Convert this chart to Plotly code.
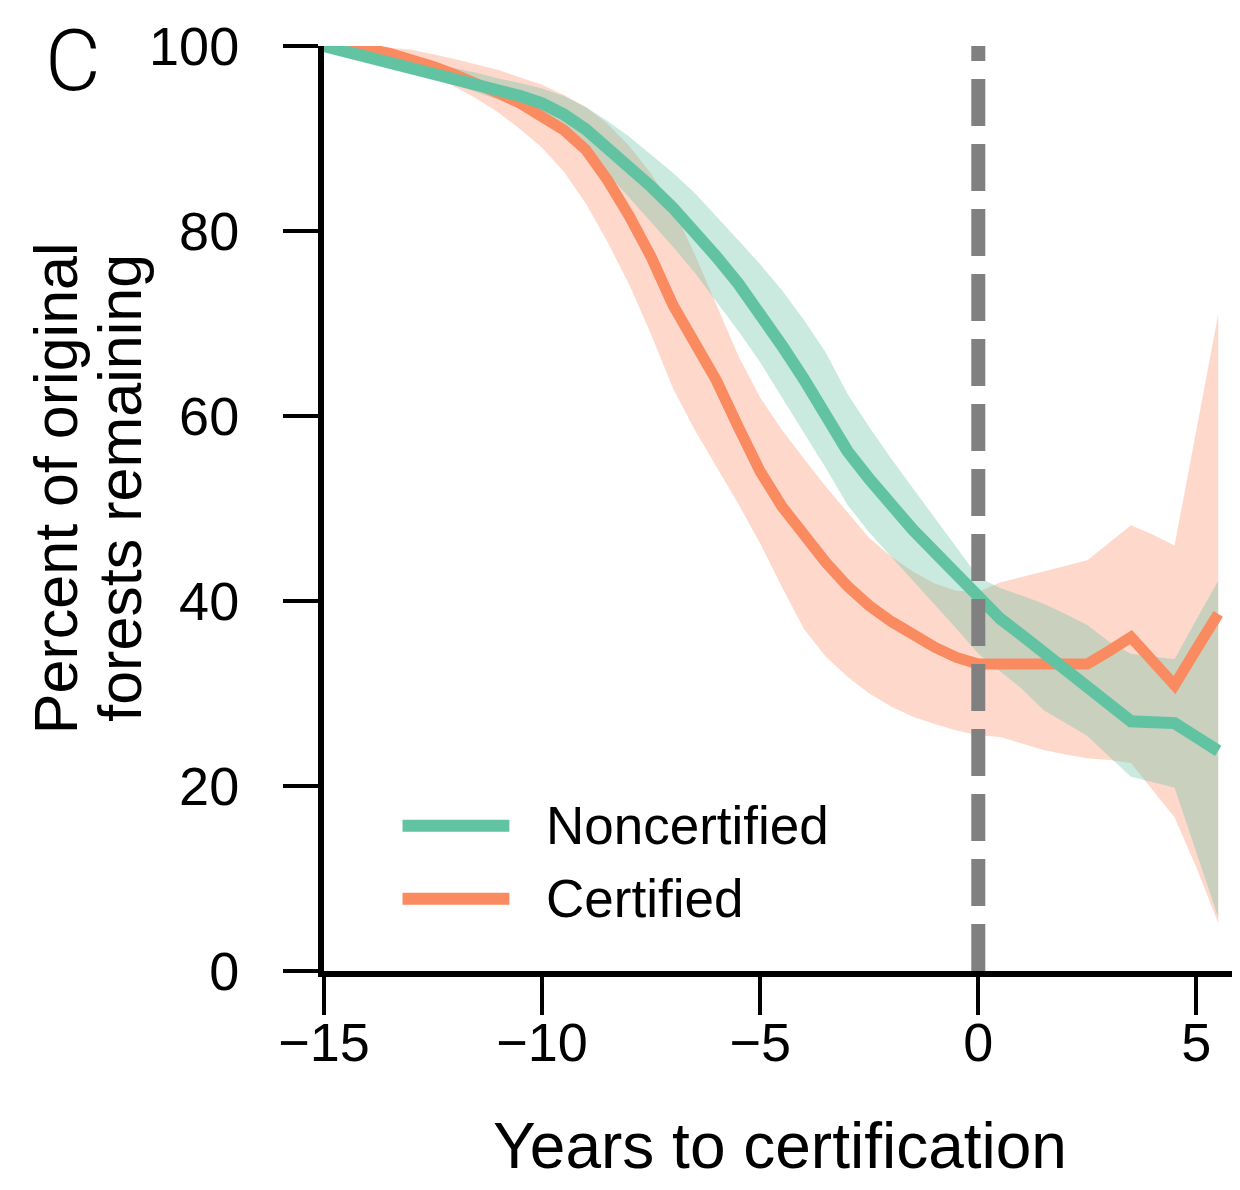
import plotly.graph_objects as go

years = [-15, -14.5, -14, -13.5, -13, -12.5, -12, -11.5, -11, -10.5, -10, -9.5, -9, -8.5,
         -8, -7.5, -7, -6.5, -6, -5.5, -5, -4.5, -4, -3.5, -3, -2.5, -2, -1.5, -1, -0.5,
         0, 0.5, 1, 1.5, 2, 2.5, 3, 3.5, 4, 4.5, 5, 5.5]

noncert_mean = [100, 99.4, 98.9, 98.4, 97.9, 97.3, 96.7, 96.0, 95.3, 94.6, 93.8, 92.6, 91.0, 89.0,
                86.9, 84.8, 82.5, 80.0, 77.2, 74.3, 71.2, 67.6, 64.0, 60.3, 56.2, 53.2, 50.3, 47.7,
                45.3, 42.8, 40.4, 38.1, 36.3, 34.5, 32.7, 30.8, 28.9, 27.0, 26.9, 26.8, 25.3, 23.8]
noncert_upper = [100, 99.8, 99.4, 99.0, 98.6, 98.1, 97.6, 97.1, 96.5, 96.0, 95.4, 94.6, 93.4, 91.9,
                 90.2, 88.3, 86.3, 84.1, 81.6, 79.0, 76.4, 73.6, 70.4, 66.9, 62.4, 58.8, 55.4, 52.2,
                 49.0, 45.8, 42.6, 41.4, 40.6, 39.7, 38.6, 37.4, 35.6, 34.3, 34.0, 33.7, 38.0, 42.2]
noncert_lower = [99.6, 99.0, 98.4, 97.8, 97.2, 96.5, 95.8, 95.0, 94.2, 93.3, 92.2, 90.6, 88.6, 86.2,
                 83.6, 81.0, 78.3, 75.5, 72.4, 69.2, 65.8, 62.0, 58.2, 54.4, 50.4, 47.4, 44.8, 42.2,
                 39.6, 37.0, 34.3, 32.4, 30.5, 28.2, 26.8, 25.4, 23.2, 21.0, 20.4, 19.8, 12.8, 5.8]

cert_mean = [100, 99.9, 99.7, 99.2, 98.6, 97.8, 96.9, 96.0, 94.9, 93.8, 92.5, 90.9, 88.8, 85.5,
             81.6, 77.2, 72.0, 68.0, 63.8, 58.8, 54.0, 50.2, 47.0, 44.2, 41.6, 39.5, 37.8, 36.3,
             35.0, 33.9, 33.2, 33.2, 33.2, 33.2, 33.2, 33.2, 34.6, 36.1, 33.5, 30.9, 34.8, 38.6]
cert_upper = [100, 100, 100, 99.8, 99.6, 99.1, 98.6, 98.0, 97.4, 96.6, 95.8, 94.7, 93.4, 91.6,
              89.2, 86.2, 82.5, 77.5, 72.0, 66.5, 62.0, 58.5, 55.4, 52.4, 49.6, 46.8, 44.8, 43.2,
              41.9, 41.1, 41.0, 42.0, 42.6, 43.2, 43.8, 44.4, 46.3, 48.2, 47.2, 46.0, 58.5, 71.0]
cert_lower = [99.8, 99.5, 99.2, 98.6, 97.8, 96.8, 95.6, 94.3, 92.8, 91.0, 89.0, 86.4, 83.0, 78.8,
              74.2, 68.8, 63.0, 58.5, 54.5, 50.5, 46.2, 41.5, 37.0, 34.0, 31.8, 30.0, 28.6, 27.5,
              26.7, 26.0, 25.5, 25.3, 24.6, 23.9, 23.4, 23.0, 22.8, 22.5, 19.5, 16.6, 11.2, 5.2]

x_ticks = [-15, -10, -5, 0, 5]
x_tick_labels = ["\u221215", "\u221210", "\u22125", "0", "5"]
y_ticks = [0, 20, 40, 60, 80, 100]
series_names = ["Noncertified", "Certified"]

TEAL = "#62c3a3"
ORANGE = "#fa8a5f"
FONT = "Liberation Sans, Arial, sans-serif"

fig = go.Figure()

# Confidence bands (certified below, noncertified on top)
fig.add_trace(go.Scatter(
    x=years + years[::-1], y=cert_upper + cert_lower[::-1],
    fill="toself", fillcolor="rgba(252,141,98,0.33)", line=dict(width=0),
    mode="lines", hoverinfo="skip", showlegend=False))
fig.add_trace(go.Scatter(
    x=years + years[::-1], y=noncert_upper + noncert_lower[::-1],
    fill="toself", fillcolor="rgba(102,194,165,0.35)", line=dict(width=0),
    mode="lines", hoverinfo="skip", showlegend=False))

# Mean lines
fig.add_trace(go.Scatter(x=years, y=cert_mean, mode="lines", name=series_names[1],
                         line=dict(color=ORANGE, width=11), showlegend=False))
fig.add_trace(go.Scatter(x=years, y=noncert_mean, mode="lines", name=series_names[0],
                         line=dict(color=TEAL, width=12), showlegend=False))

# Certification year marker
fig.add_shape(type="line", xref="x", yref="y", x0=0, x1=0, y0=0, y1=100,
              line=dict(color="#808080", width=14, dash="47px,18px"), layer="above")

# Manual legend
leg_items = [(series_names[0], TEAL, 15.7), (series_names[1], ORANGE, 7.8)]
for name, col, yv in leg_items:
    fig.add_shape(type="line", xref="x", yref="y", x0=-13.2, x1=-10.75, y0=yv, y1=yv,
                  line=dict(color=col, width=12), layer="above")
    fig.add_annotation(x=-9.95, y=yv, xref="x", yref="y", text=name, showarrow=False,
                       xanchor="left", yanchor="middle",
                       font=dict(family=FONT, size=53, color="black"))

# Axis titles and panel letter
fig.add_annotation(x=-0.2926, y=0.522, xref="paper", yref="paper", text="Percent of original",
                   textangle=-90, showarrow=False, xanchor="center", yanchor="middle",
                   font=dict(family=FONT, size=61, color="black"))
fig.add_annotation(x=-0.222, y=0.522, xref="paper", yref="paper", text="forests remaining",
                   textangle=-90, showarrow=False, xanchor="center", yanchor="middle",
                   font=dict(family=FONT, size=61, color="black"))
fig.add_annotation(x=0.498, y=-0.189, xref="paper", yref="paper", text="Years to certification",
                   showarrow=False, xanchor="center", yanchor="middle",
                   font=dict(family=FONT, size=64, color="black"))
fig.add_annotation(x=-0.274, y=1.0411, xref="paper", yref="paper", text="C",
                   showarrow=False, xanchor="center", yanchor="top",
                   font=dict(family="Roboto, Liberation Sans, sans-serif", size=86,
                             color="black", weight=300))

fig.update_layout(
    width=1240, height=1190,
    margin=dict(l=316, r=8, t=38, b=227),
    paper_bgcolor="white", plot_bgcolor="white",
    showlegend=False,
    font=dict(family=FONT, color="black"),
)
fig.update_xaxes(range=[-15, 6], tickvals=x_ticks, ticktext=x_tick_labels,
                 showgrid=False, zeroline=False, showline=True, linecolor="black", linewidth=6,
                 ticks="outside", ticklen=38, tickwidth=4, tickcolor="black",
                 tickfont=dict(family=FONT, size=54, color="black"), ticklabelstandoff=-19)
fig.update_yaxes(range=[0, 100], tickvals=y_ticks,
                 showgrid=False, zeroline=False, showline=True, linecolor="black", linewidth=6,
                 ticks="outside", ticklen=35, tickwidth=4, tickcolor="black",
                 tickfont=dict(family=FONT, size=54, color="black"), ticklabelstandoff=33)

fig.write_html("out.html")
